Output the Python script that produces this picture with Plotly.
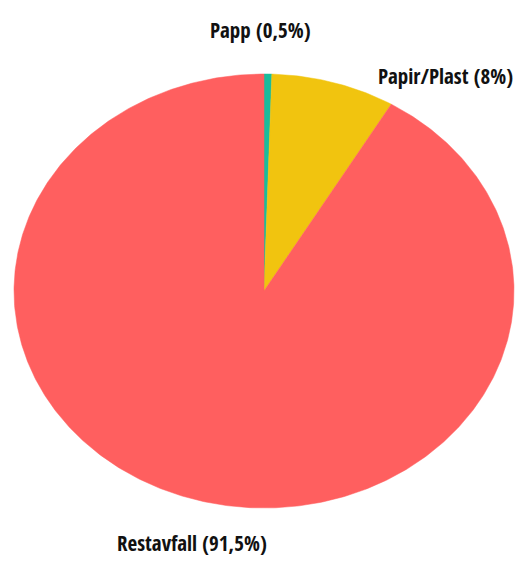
import numpy as np
import plotly.graph_objects as go

labels = ["Papp", "Papir/Plast", "Restavfall"]
values = [0.5, 8.0, 91.5]
label_text = ["Papp (0,5%)", "Papir/Plast (8%)", "Restavfall (91,5%)"]
colors = ["#1ABC9C", "#F1C40F", "#FF5F5F"]

W, H = 515, 563
cx, cy, rx, ry = 264, 291, 250, 217

fig = go.Figure()
total = sum(values)
start = 0.0
for lab, v, c in zip(labels, values, colors):
    t0 = start / total * 2 * np.pi
    t1 = (start + v) / total * 2 * np.pi
    n = max(4, int(v * 6))
    t = np.linspace(t0, t1, n)
    xs = np.concatenate([[cx], cx + rx * np.sin(t), [cx]])
    ys = np.concatenate([[cy], cy - ry * np.cos(t), [cy]])
    fig.add_trace(go.Scatter(x=xs, y=ys, fill="toself", fillcolor=c, mode="lines",
                             line=dict(width=0.5, color=c), name=lab, hoverinfo="name"))
    start += v

font = dict(family="Open Sans Condensed, Roboto Condensed, sans-serif",
            size=21, color="#111111")
ann_pos = [(260, 30), (445, 76), (192, 543)]
for txt, (ax, ay) in zip(label_text, ann_pos):
    fig.add_annotation(x=ax, y=ay, text="<b>" + txt + "</b>", showarrow=False,
                       font=font, xanchor="center", yanchor="middle")

fig.update_layout(
    width=W, height=H, margin=dict(l=0, r=0, t=0, b=0),
    paper_bgcolor="white", plot_bgcolor="white", showlegend=False,
    xaxis=dict(range=[0, W], visible=False, fixedrange=True),
    yaxis=dict(range=[H, 0], visible=False, fixedrange=True),
)
fig.write_html("out.html")
